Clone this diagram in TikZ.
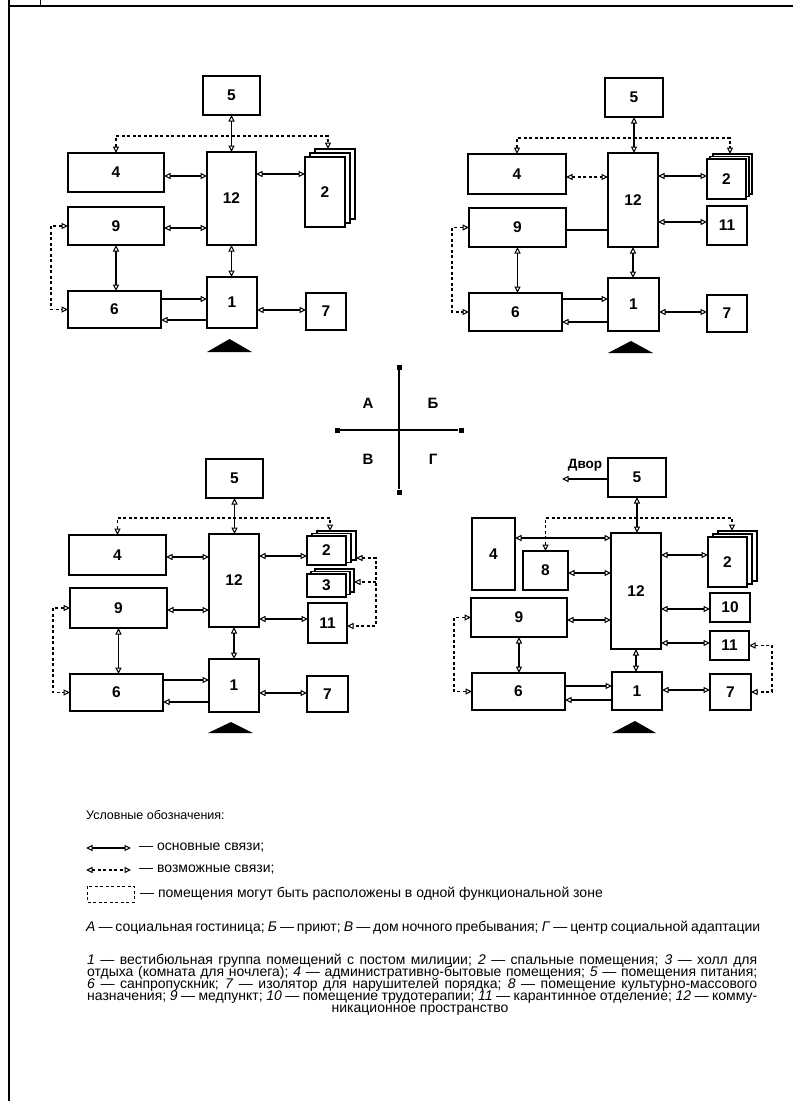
\documentclass[tikz,border=0pt]{standalone}
\usepackage{fontspec}
\setmainfont{Liberation Sans}
\usetikzlibrary{arrows.meta}
\newcommand\legfont{\fontsize{14}{12}\selectfont}
\newcommand\bx[7][]{%
  \pgfmathsetmacro\bxw{(#5)-(#3)}%
  \pgfmathsetmacro\bxh{(#6)-(#4)}%
  \node[box,#1,minimum width=\bxw pt,minimum height=\bxh pt] (#2) at ({((#3)+(#5))/2},{((#4)+(#6))/2}) {#7};}
\newcommand\stk[8]{%
  \bx{#1c}{(#2)+2*(#7)}{(#3)+2*(#8)}{(#4)+2*(#7)}{(#5)+2*(#8)}{}%
  \bx{#1b}{(#2)+(#7)}{(#3)+(#8)}{(#4)+(#7)}{(#5)+(#8)}{}%
  \bx{#1}{#2}{#3}{#4}{#5}{#6}}
\begin{document}
\begin{tikzpicture}[x=1pt,y=-1pt,
  box/.style={draw,line width=1.7pt,fill=white,inner sep=0pt,outer sep=0pt,
    font=\bfseries\fontsize{15.5}{15.5}\selectfont},
  tip/.tip={Triangle[open,length=6.5pt,width=6pt,line width=1pt]},
  bi/.style={line width=1.2pt,tip-tip},
  uni/.style={line width=1.2pt,-tip},
  dsh/.style={dash pattern=on 3pt off 2.5pt},
  lbl/.style={font=\bfseries\fontsize{15}{15}\selectfont,inner sep=0pt},
  sq/.style={fill,minimum size=5pt,inner sep=0pt},
  leg/.style={inner sep=0pt,font=\legfont}]
\useasboundingbox (0,0) rectangle (793,1101);
% frame
\draw[line width=1.3pt] (9,0) -- (9,1101);
\draw[line width=1.3pt] (9,6) -- (793,6);
\draw[line width=1pt] (40,0) -- (40,6);

% ===== A =====
\bx{A5}{203}{76}{260}{115}{5}
\bx{A4}{68}{153}{164}{192}{4}
\bx{A12}{207}{152}{256}{245}{12}
\stk{A2}{305}{157}{345}{227}{2}{5}{-4}
\bx{A9}{68}{207}{164}{245}{9}
\bx{A6}{68}{291}{161}{328}{6}
\bx{A1}{207}{277}{257}{328}{1}
\bx{A7}{306}{293}{346}{330}{7}
\fill (207,352) -- (229.5,339) -- (252,352) -- cycle;
\draw[bi] (A5.south) -- (A5.south |- A12.north);
\draw[bi,dsh] (A4.north) -- (A4.north |- 0,136) -- (328,136) -- (328,0 |- A2c.north);
\draw[bi] (A4.east |- 0,176) -- (A12.west |- 0,176);
\draw[bi] (A12.east |- 0,174) -- (A2.west |- 0,174);
\draw[bi] (A9.east |- 0,228) -- (A12.west |- 0,228);
\draw[bi] (A9.south) -- (A9.south |- A6.north);
\draw[bi] (A12.south) -- (A12.south |- A1.north);
\draw[uni] (A6.east |- 0,299) -- (A1.west |- 0,299);
\draw[uni] (A1.west |- 0,320) -- (A6.east |- 0,320);
\draw[bi] (A1.east |- 0,310) -- (A7.west |- 0,310);
\draw[bi,dsh] (A9.west) -- (51,0 |- A9.west) -- (51,0 |- A6.west) -- (A6.west);

% ===== B =====
\bx{B5}{605}{78}{663}{117}{5}
\bx{B4}{468}{154}{566}{194}{4}
\bx{B12}{608}{153}{658}{247}{12}
\stk{B2}{707}{159}{746}{199}{2}{3}{-2.5}
\bx{B11}{707}{206}{747}{245}{11}
\bx{B9}{469}{208}{566}{247}{9}
\bx{B6}{469}{293}{562}{331}{6}
\bx{B1}{608}{278}{659}{331}{1}
\bx{B7}{707}{295}{747}{332}{7}
\fill (608,353) -- (631,341) -- (653,353) -- cycle;
\draw[bi] (B5.south) -- (B5.south |- B12.north);
\draw[bi,dsh] (B4.north) -- (B4.north |- 0,138) -- (730,138) -- (730,0 |- B2c.north);
\draw[bi,dsh] (B4.east |- 0,177) -- (B12.west |- 0,177);
\draw[bi] (B12.east |- 0,176) -- (B2.west |- 0,176);
\draw[bi] (B12.east |- 0,222) -- (B11.west |- 0,222);
\draw[line width=1.2pt] (B9.east |- 0,230) -- (B12.west |- 0,230);
\draw[bi] (B9.south) -- (B9.south |- B6.north);
\draw[bi] (B12.south) -- (B12.south |- B1.north);
\draw[uni] (B6.east |- 0,299) -- (B1.west |- 0,299);
\draw[uni] (B1.west |- 0,322) -- (B6.east |- 0,322);
\draw[bi] (B1.east |- 0,312) -- (B7.west |- 0,312);
\draw[bi,dsh] (B9.west) -- (452,0 |- B9.west) -- (452,0 |- B6.west) -- (B6.west);

% ===== C =====
\bx{C5}{206}{459}{263}{498}{5}
\bx{C4}{69}{535}{166}{575}{4}
\bx{C12}{209}{534}{259}{627}{12}
\stk{C2}{307}{536}{346}{565}{2}{5}{-2.5}
\stk{C3}{307}{574}{346}{597}{3}{4}{-2.5}
\bx{C11}{308}{603}{347}{643}{11}
\bx{C9}{70}{588}{167}{628}{9}
\bx{C6}{70}{674}{163}{711}{6}
\bx{C1}{209}{659}{259}{712}{1}
\bx{C7}{307}{676}{348}{712}{7}
\fill (208,733) -- (231,722) -- (253,733) -- cycle;
\draw[bi] (C5.south) -- (C5.south |- C12.north);
\draw[bi,dsh] (C4.north) -- (C4.north |- 0,518) -- (330,518) -- (330,0 |- C2c.north);
\draw[bi] (C4.east |- 0,557) -- (C12.west |- 0,557);
\draw[bi] (C12.east |- 0,556) -- (C2.west |- 0,556);
\draw[bi] (C9.east |- 0,610) -- (C12.west |- 0,610);
\draw[bi] (C12.east |- 0,619) -- (C11.west |- 0,619);
\draw[bi] (C9.south) -- (C9.south |- C6.north);
\draw[bi] (C12.south) -- (C12.south |- C1.north);
\draw[uni] (C6.east |- 0,680) -- (C1.west |- 0,680);
\draw[uni] (C1.west |- 0,702) -- (C6.east |- 0,702);
\draw[bi] (C1.east |- 0,693) -- (C7.west |- 0,693);
\draw[bi,dsh] (C9.west) -- (53,0 |- C9.west) -- (53,0 |- C6.west) -- (C6.west);
\draw[bi,dsh] (C2c.east |- 0,558) -- (376,558) -- (376,626) -- (C11.east |- 0,626);
\draw[uni,dsh] (376,582) -- (C3c.east |- 0,582);

% ===== D =====
\bx{D5}{608}{458}{666}{497}{5}
\node[lbl,font=\bfseries\fontsize{13.5}{13.5}\selectfont] (dvor) at (585,465) {Двор};
\coordinate (dvE) at (562,479);
\draw[uni] (D5.west |- 0,479) -- (dvE);
\bx{D4}{472}{518}{515}{590}{4}
\bx{D8}{523}{551}{568}{590}{8}
\bx{D12}{611}{533}{661}{649}{12}
\stk{D2}{708}{537}{747}{587}{2}{5}{-3}
\bx{D10}{710}{593}{750}{622}{10}
\bx{D11}{710}{631}{749}{660}{11}
\bx{D9}{471}{598}{567}{637}{9}
\bx{D6}{472}{673}{565}{710}{6}
\bx{D1}{612}{672}{662}{710}{1}
\bx{D7}{710}{674}{751}{710}{7}
\fill (612,733) -- (635,721) -- (656,733) -- cycle;
\draw[bi] (D5.south) -- (D5.south |- D12.north);
\draw[bi] (D4.east |- 0,538) -- (D12.west |- 0,538);
\draw[bi,dsh] (D8.north) -- (D8.north |- 0,518) -- (732,518) -- (732,0 |- D2c.north);
\draw[bi] (D8.east |- 0,573) -- (D12.west |- 0,573);
\draw[bi] (D12.east |- 0,555) -- (D2.west |- 0,555);
\draw[bi] (D12.east |- 0,609) -- (D10.west |- 0,609);
\draw[bi] (D9.east |- 0,620) -- (D12.west |- 0,620);
\draw[bi] (D12.east |- 0,643) -- (D11.west |- 0,643);
\draw[bi] (D9.south) -- (D9.south |- D6.north);
\draw[bi] (D12.south) -- (D12.south |- D1.north);
\draw[uni] (D6.east |- 0,686) -- (D1.west |- 0,686);
\draw[uni] (D1.west |- 0,700) -- (D6.east |- 0,700);
\draw[bi] (D1.east |- 0,690) -- (D7.west |- 0,690);
\draw[bi,dsh] (D9.west) -- (454,0 |- D9.west) -- (454,0 |- D6.west) -- (D6.west);
\draw[bi,dsh] (D11.east) -- (772,0 |- D11.east) -- (772,0 |- D7.east) -- (D7.east);

% ===== centre cross =====
\node[sq] (nT) at (399,367) {};
\node[sq] (nB) at (399,492) {};
\node[sq] (nL) at (337,430) {};
\node[sq] (nR) at (461,430) {};
\draw[line width=1.3pt] (nT) -- (nB);
\draw[line width=1.3pt] (nL) -- (nR);
\node[lbl] (qA) at (368,403) {А};
\node[lbl] (qB) at (433,403) {Б};
\node[lbl] (qC) at (368,459) {В};
\node[lbl] (qD) at (433,459) {Г};

% ===== legend =====
\node[leg,anchor=west,font=\fontsize{12.5}{12}\selectfont] (t0) at (86,815) {Условные обозначения:};
\coordinate (l1a) at (86,848); \coordinate (l1b) at (131,848);
\draw[bi] (l1a) -- (l1b);
\node[leg,anchor=west] (t1) at (139,848) {— основные связи;};
\coordinate (l2a) at (86,870); \coordinate (l2b) at (131,870);
\draw[bi,dsh] (l2a) -- (l2b);
\node[leg,anchor=west] (t2) at (139,870) {— возможные связи;};
\draw[line width=1pt,dsh] (87,886) rectangle (134,902);
\node[leg,anchor=west] (t3) at (140,894) {— помещения могут быть расположены в одной функциональной зоне};
\node[leg,anchor=base west] (t4) at (86,931) {\makebox[674pt][s]{\textit{А} — социальная гостиница; \textit{Б} — приют; \textit{В} — дом ночного пребывания; \textit{Г} — центр социальной адаптации}};
\node[leg,anchor=base west] (p1) at (87,964) {\makebox[670pt][s]{\textit{1} — вестибюльная группа помещений с постом милиции; \textit{2} — спальные помещения; \textit{3} — холл для}};
\node[leg,anchor=base west] (p2) at (87,976) {\makebox[670pt][s]{отдыха (комната для ночлега); \textit{4} — административно-бытовые помещения; \textit{5} — помещения питания;}};
\node[leg,anchor=base west] (p3) at (87,988) {\makebox[670pt][s]{\textit{6} — санпропускник; \textit{7} — изолятор для нарушителей порядка; \textit{8} — помещение культурно-массового}};
\node[leg,anchor=base west] (p4) at (87,1000) {\makebox[670pt][s]{назначения; \textit{9} — медпункт; \textit{10} — помещение трудотерапии; \textit{11} — карантинное отделение; \textit{12} — комму-}};
\node[leg,anchor=base] (p5) at (420,1012) {никационное пространство};
\end{tikzpicture}
\end{document}
